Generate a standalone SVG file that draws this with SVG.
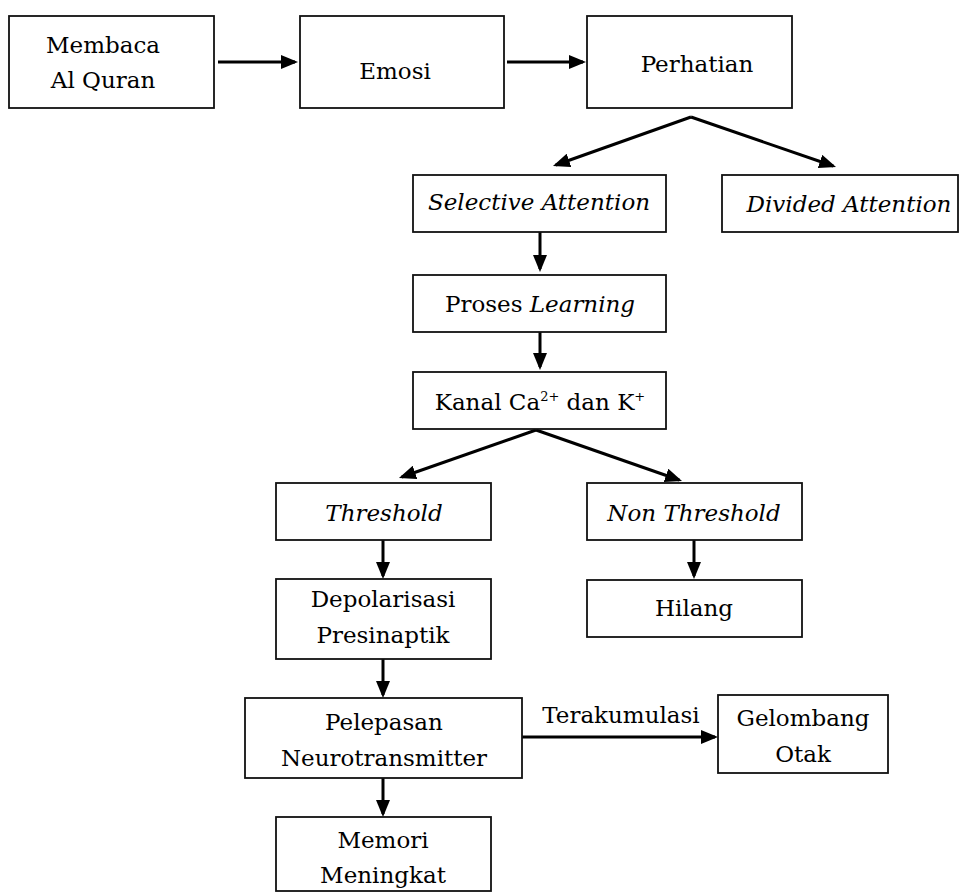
<svg xmlns="http://www.w3.org/2000/svg" width="960" height="893" viewBox="0 0 960 893">
<defs>
<style>
.box{fill:#fff;stroke:#111;stroke-width:1.8}
.t{font-family:"DejaVu Serif","Liberation Serif",serif;font-size:23px;fill:#000;text-anchor:middle}
.i{font-style:italic}
.c{fill:none;stroke:#000;stroke-width:3}
</style>
<marker id="ah" viewBox="0 0 17 14" markerWidth="17" markerHeight="14" refX="14" refY="7" orient="auto" markerUnits="userSpaceOnUse">
<path d="M0,0 L17,7 L0,14 z" fill="#000"/>
</marker>
</defs>
<rect width="960" height="893" fill="#fff"/>
<g id="connectors">
<line class="c" x1="218" y1="62" x2="295" y2="62" marker-end="url(#ah)"/>
<line class="c" x1="507" y1="62" x2="583" y2="62" marker-end="url(#ah)"/>
<line class="c" x1="691" y1="117" x2="555.8" y2="165" marker-end="url(#ah)"/>
<line class="c" x1="691" y1="117" x2="833.2" y2="166" marker-end="url(#ah)"/>
<line class="c" x1="540" y1="232" x2="540" y2="269" marker-end="url(#ah)"/>
<line class="c" x1="540" y1="332" x2="540" y2="367" marker-end="url(#ah)"/>
<line class="c" x1="536" y1="430" x2="401.8" y2="477" marker-end="url(#ah)"/>
<line class="c" x1="536" y1="430" x2="679.2" y2="480" marker-end="url(#ah)"/>
<line class="c" x1="383" y1="540" x2="383" y2="576" marker-end="url(#ah)"/>
<line class="c" x1="694" y1="540" x2="694" y2="576" marker-end="url(#ah)"/>
<line class="c" x1="383" y1="659" x2="383" y2="695" marker-end="url(#ah)"/>
<line class="c" x1="383" y1="778" x2="383" y2="814" marker-end="url(#ah)"/>
<line class="c" x1="522" y1="737" x2="715" y2="737" marker-end="url(#ah)"/>
<text class="t" x="621" y="723">Terakumulasi</text>
</g>
<g id="membaca"><rect class="box" x="9" y="16" width="205" height="92"/><text class="t" x="103" y="53">Membaca</text><text class="t" x="103" y="88">Al Quran</text></g>
<g id="emosi"><rect class="box" x="300" y="16" width="204" height="92"/><text class="t" x="395" y="79">Emosi</text></g>
<g id="perhatian"><rect class="box" x="587" y="16" width="205" height="92"/><text class="t" x="697" y="72">Perhatian</text></g>
<g id="selective"><rect class="box" x="413" y="175" width="253" height="57"/><text class="t i" x="539" y="210">Selective Attention</text></g>
<g id="divided"><rect class="box" x="722" y="175" width="236" height="57"/><text class="t i" x="849" y="212">Divided Attention</text></g>
<g id="proses"><rect class="box" x="413" y="275" width="253" height="57"/><text class="t" x="540" y="312">Proses <tspan class="i">Learning</tspan></text></g>
<g id="kanal"><rect class="box" x="413" y="372" width="253" height="57"/><text class="t" x="540" y="410">Kanal Ca<tspan font-size="13" dy="-9">2+</tspan><tspan dy="9"> dan K</tspan><tspan font-size="13" dy="-9">+</tspan></text></g>
<g id="threshold"><rect class="box" x="276" y="483" width="215" height="57"/><text class="t i" x="384" y="521">Threshold</text></g>
<g id="nonthreshold"><rect class="box" x="587" y="483" width="215" height="57"/><text class="t i" x="694" y="521">Non Threshold</text></g>
<g id="depolarisasi"><rect class="box" x="276" y="579" width="215" height="80"/><text class="t" x="383" y="607">Depolarisasi</text><text class="t" x="383" y="643">Presinaptik</text></g>
<g id="hilang"><rect class="box" x="587" y="580" width="215" height="57"/><text class="t" x="694" y="616">Hilang</text></g>
<g id="pelepasan"><rect class="box" x="245" y="698" width="277" height="80"/><text class="t" x="384" y="730">Pelepasan</text><text class="t" x="384" y="766">Neurotransmitter</text></g>
<g id="gelombang"><rect class="box" x="718" y="695" width="170" height="78"/><text class="t" x="803" y="726">Gelombang</text><text class="t" x="803" y="762">Otak</text></g>
<g id="memori"><rect class="box" x="276" y="817" width="215" height="74"/><text class="t" x="383" y="848">Memori</text><text class="t" x="383" y="883">Meningkat</text></g>
</svg>
